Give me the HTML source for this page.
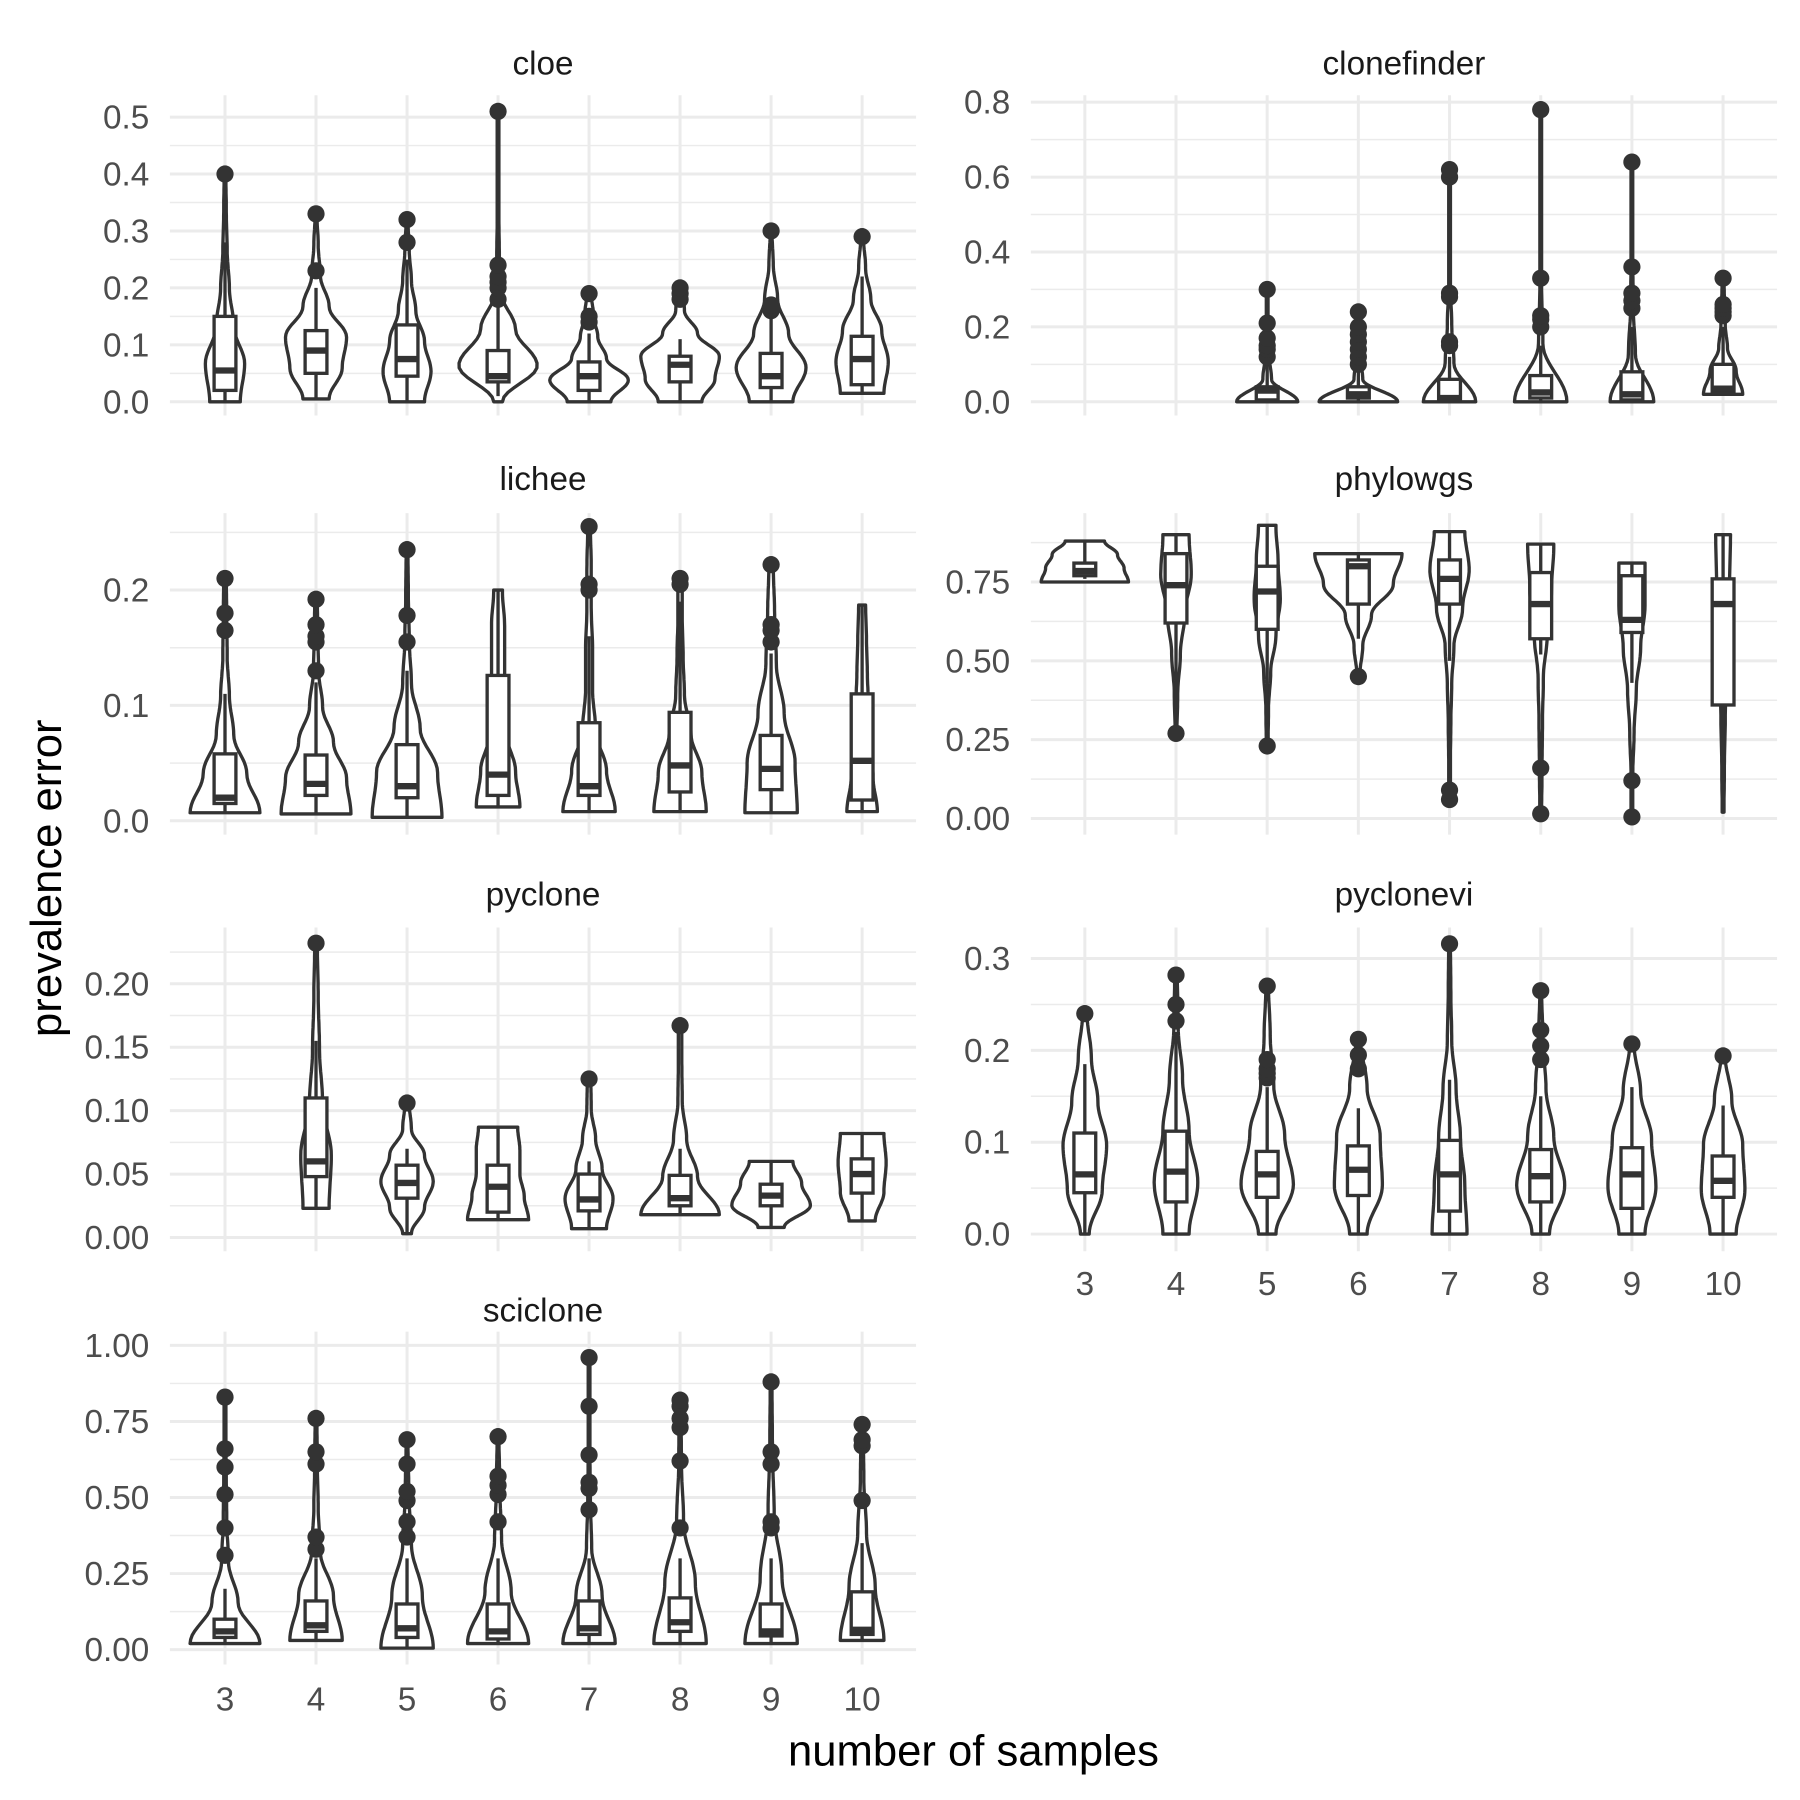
<!DOCTYPE html>
<html><head><meta charset="utf-8"><style>
html,body{margin:0;padding:0;background:#fff}
svg{display:block}
text{font-family:"Liberation Sans",sans-serif}
</style></head><body>
<svg id="chart" width="1800" height="1800" viewBox="0 0 1568 1568" xmlns="http://www.w3.org/2000/svg">
<rect width="1568" height="1568" fill="#fff"/>
<text x="0" y="0" transform="translate(53,765) rotate(-90)" text-anchor="middle" font-size="38" fill="#000">prevalence error</text>
<text x="848" y="1538" text-anchor="middle" font-size="38" fill="#000">number of samples</text>
</svg>
<script>
const categories = [3,4,5,6,7,8,9,10];
const panelNames = ["cloe","clonefinder","lichee","phylowgs","pyclone","pyclonevi","sciclone"];
const tickValues = [[0,0.1,0.2,0.3,0.4,0.5],[0,0.2,0.4,0.6,0.8],[0,0.1,0.2],[0,0.25,0.5,0.75],[0,0.05,0.1,0.15,0.2],[0,0.1,0.2,0.3],[0,0.25,0.5,0.75,1]];
const tickLabels = [["0.0","0.1","0.2","0.3","0.4","0.5"],["0.0","0.2","0.4","0.6","0.8"],["0.0","0.1","0.2"],["0.00","0.25","0.50","0.75"],["0.00","0.05","0.10","0.15","0.20"],["0.0","0.1","0.2","0.3"],["0.00","0.25","0.50","0.75","1.00"]];
const minorValues = [[0.05,0.15,0.25,0.35,0.45],[0.1,0.3,0.5,0.7],[0.05,0.15,0.25],[0.125,0.375,0.625,0.875],[0.025,0.075,0.125,0.175,0.225],[0.05,0.15,0.25],[0.125,0.375,0.625,0.875]];

const cloeCats=[3,4,5,6,7,8,9,10];
const cloeVmin=[0,0.005,0,0,0,0,0,0.015];
const cloeVmax=[0.4,0.33,0.32,0.51,0.19,0.2,0.3,0.29];
const cloeWidths=[[0.35,0.45,0.2,0.1,0.05,0.03,0.02],[0.3,0.6,0.7,0.3,0.1,0.05,0.02],[0.4,0.55,0.4,0.2,0.1,0.05,0.02],[0.1,0.9,0.4,0.08,0.03,0.02,0.02,0.02,0.02],[0.5,0.9,0.4,0.2,0.1,0.05],[0.5,0.8,0.9,0.4,0.1,0.05],[0.5,0.8,0.4,0.15,0.05,0.02],[0.5,0.6,0.45,0.2,0.08,0.03]];
const cloeBox=[[0,0.02,0.055,0.15,0.28],[0.005,0.05,0.09,0.125,0.2],[0,0.045,0.075,0.135,0.25],[0.01,0.035,0.045,0.09,0.17],[0,0.02,0.045,0.07,0.12],[0,0.035,0.065,0.08,0.11],[0,0.025,0.045,0.085,0.15],[0.015,0.03,0.075,0.115,0.22]];
const cloeOut=[[0.4],[0.23,0.33],[0.28,0.32],[0.18,0.2,0.21,0.22,0.24,0.51],[0.14,0.15,0.19],[0.18,0.19,0.2],[0.16,0.17,0.3],[0.29]];

const cfCats=[5,6,7,8,9,10];
const cfVmin=[0,0,0,0,0,0.02];
const cfVmax=[0.3,0.24,0.62,0.78,0.64,0.33];
const cfWidths=[[0.7,0.1,0.05,0.02,0.02,0.02],[0.9,0.1,0.05,0.02,0.02],[0.6,0.1,0.05,0.02,0.02,0.02,0.02],[0.6,0.05,0.02,0.02,0.02,0.02],[0.5,0.08,0.03,0.02,0.02,0.02],[0.45,0.3,0.1,0.05,0.03,0.02]];
const cfBox=[[0,0.005,0.03,0.04,0.1],[0,0.01,0.02,0.04,0.08],[0,0.005,0.01,0.06,0.12],[0,0.01,0.025,0.07,0.15],[0,0.005,0.02,0.08,0.2],[0.02,0.025,0.035,0.1,0.2]];
const cfOut=[[0.12,0.14,0.15,0.17,0.21,0.3],[0.1,0.12,0.14,0.16,0.18,0.2,0.24],[0.15,0.16,0.28,0.29,0.6,0.62],[0.2,0.22,0.23,0.33,0.78],[0.25,0.27,0.29,0.36,0.64],[0.23,0.24,0.25,0.26,0.33]];

const liCats=[3,4,5,6,7,8,9,10];
const liVmin=[0.007,0.006,0.003,0.012,0.008,0.008,0.007,0.008];
const liVmax=[0.21,0.192,0.235,0.2,0.255,0.21,0.222,0.187];
const liWidths=[[0.8,0.5,0.2,0.1,0.05,0.04,0.03],[0.8,0.7,0.4,0.15,0.06,0.04,0.03],[0.8,0.7,0.3,0.1,0.05,0.03,0.02],[0.5,0.4,0.2,0.15,0.15,0.15,0.1],[0.6,0.4,0.15,0.08,0.08,0.05,0.05,0.03],[0.6,0.5,0.25,0.1,0.07,0.05,0.05],[0.6,0.55,0.3,0.12,0.08,0.05],[0.35,0.25,0.2,0.15,0.12,0.1,0.08]];
const liBox=[[0.007,0.015,0.02,0.058,0.11],[0.006,0.022,0.032,0.057,0.12],[0.003,0.02,0.03,0.066,0.13],[0.012,0.022,0.04,0.126,0.2],[0.008,0.022,0.03,0.085,0.16],[0.008,0.025,0.048,0.094,0.19],[0.007,0.027,0.045,0.074,0.145],[0.008,0.018,0.052,0.11,0.187]];
const liOut=[[0.165,0.18,0.21],[0.13,0.155,0.16,0.17,0.192],[0.155,0.178,0.235],[],[0.2,0.205,0.255],[0.205,0.21],[0.155,0.165,0.17,0.222],[]];

const phCats=[3,4,5,6,7,8,9,10];
const phVmin=[0.75,0.27,0.23,0.45,0.06,0.015,0.005,0.02];
const phVmax=[0.88,0.9,0.93,0.84,0.91,0.87,0.81,0.9];
const phWidths=[[1,0.9,0.75,0.45],[0.02,0.04,0.1,0.2,0.35,0.3],[0.02,0.03,0.08,0.2,0.3,0.25,0.2],[0.03,0.1,0.3,0.8,1.0],[0.02,0.02,0.03,0.05,0.1,0.3,0.45,0.35],[0.02,0.03,0.04,0.06,0.15,0.25,0.3],[0.02,0.02,0.05,0.1,0.2,0.3,0.3],[0.02,0.03,0.05,0.08,0.12,0.15,0.17]];
const phBox=[[0.76,0.77,0.785,0.81,0.88],[0.35,0.62,0.74,0.84,0.9],[0.3,0.6,0.72,0.8,0.93],[0.57,0.68,0.8,0.82,0.84],[0.5,0.68,0.76,0.82,0.91],[0.52,0.57,0.68,0.78,0.87],[0.43,0.59,0.63,0.77,0.81],[0.1,0.36,0.68,0.76,0.9]];
const phOut=[[],[0.27],[0.23],[0.45],[0.06,0.09],[0.015,0.16],[0.005,0.12],[]];

const pyCats=[4,5,6,7,8,9,10];
const pyVmin=[0.023,0.003,0.014,0.007,0.018,0.008,0.013];
const pyVmax=[0.232,0.106,0.087,0.125,0.167,0.06,0.082];
const pyWidths=[[0.3,0.35,0.15,0.08,0.05,0.03],[0.1,0.4,0.6,0.4,0.1,0.05],[0.7,0.6,0.5,0.5,0.45],[0.4,0.55,0.3,0.15,0.05,0.04],[0.9,0.4,0.15,0.05,0.04,0.04],[0.3,0.9,0.7,0.5],[0.3,0.5,0.55,0.5]];
const pyBox=[[0.023,0.048,0.06,0.11,0.155],[0.003,0.031,0.043,0.057,0.07],[0.014,0.02,0.04,0.057,0.087],[0.007,0.021,0.03,0.05,0.06],[0.018,0.025,0.031,0.049,0.07],[0.008,0.025,0.033,0.042,0.06],[0.013,0.035,0.05,0.062,0.082]];
const pyOut=[[0.232],[0.106],[],[0.125],[0.167],[],[]];

const pvCats=[3,4,5,6,7,8,9,10];
const pvVmin=[0,0,0,0,0,0,0,0];
const pvVmax=[0.24,0.282,0.27,0.212,0.316,0.265,0.207,0.194];
const pvWidths=[[0.1,0.4,0.5,0.3,0.15,0.05],[0.3,0.5,0.3,0.15,0.05,0.03],[0.2,0.6,0.4,0.15,0.07,0.03],[0.2,0.55,0.5,0.2,0.05],[0.4,0.35,0.25,0.15,0.05,0.03,0.02],[0.2,0.55,0.3,0.12,0.05,0.02],[0.3,0.55,0.45,0.2,0.05],[0.3,0.5,0.45,0.2,0.05]];
const pvBox=[[0,0.045,0.065,0.11,0.185],[0,0.035,0.068,0.112,0.22],[0,0.04,0.065,0.09,0.16],[0,0.042,0.07,0.096,0.137],[0,0.025,0.065,0.102,0.168],[0,0.035,0.063,0.092,0.15],[0,0.028,0.065,0.094,0.16],[0,0.04,0.058,0.085,0.14]];
const pvOut=[[0.24],[0.232,0.25,0.282],[0.17,0.175,0.18,0.19,0.27],[0.18,0.195,0.212],[0.316],[0.19,0.205,0.222,0.265],[0.207],[0.194]];

const scCats=[3,4,5,6,7,8,9,10];
const scVmin=[0.02,0.03,0.005,0.02,0.02,0.02,0.02,0.03];
const scVmax=[0.83,0.76,0.69,0.705,0.96,0.82,0.88,0.74];
const scWidths=[[0.8,0.3,0.08,0.04,0.03,0.02,0.02],[0.6,0.4,0.1,0.05,0.03,0.02],[0.6,0.35,0.1,0.04,0.02],[0.7,0.3,0.08,0.04,0.02],[0.6,0.3,0.06,0.03,0.02,0.02,0.02],[0.6,0.35,0.08,0.03,0.02],[0.6,0.25,0.07,0.03,0.02],[0.5,0.3,0.1,0.04,0.02]];
const scBox=[[0.02,0.04,0.06,0.1,0.2],[0.03,0.06,0.08,0.16,0.3],[0.005,0.04,0.07,0.15,0.3],[0.02,0.035,0.06,0.15,0.3],[0.02,0.05,0.07,0.16,0.3],[0.02,0.06,0.09,0.17,0.3],[0.02,0.045,0.06,0.15,0.3],[0.03,0.05,0.065,0.19,0.35]];
const scOut=[[0.31,0.4,0.51,0.6,0.66,0.83],[0.33,0.37,0.61,0.65,0.76],[0.37,0.42,0.49,0.52,0.61,0.69],[0.42,0.51,0.54,0.57,0.7],[0.46,0.53,0.55,0.64,0.8,0.96],[0.4,0.62,0.73,0.76,0.8,0.82],[0.4,0.42,0.61,0.65,0.88],[0.49,0.67,0.69,0.74]];

const groupCats=[cloeCats,cfCats,liCats,phCats,pyCats,pvCats,scCats];
const groupVmin=[cloeVmin,cfVmin,liVmin,phVmin,pyVmin,pvVmin,scVmin];
const groupVmax=[cloeVmax,cfVmax,liVmax,phVmax,pyVmax,pvVmax,scVmax];
const groupWidths=[cloeWidths,cfWidths,liWidths,phWidths,pyWidths,pvWidths,scWidths];
const groupBox=[cloeBox,cfBox,liBox,phBox,pyBox,pvBox,scBox];
const groupOut=[cloeOut,cfOut,liOut,phOut,pyOut,pvOut,scOut];

const layout=[
 {x0:148,x1:798,top:83,bottom:362,y0:350,yRef:102,ref:0.5,title:55,c3:196,c10:751,xlab:false},
 {x0:898,x1:1548,top:83,bottom:362,y0:350,yRef:89,ref:0.8,title:55,c3:945,c10:1501,xlab:false},
 {x0:148,x1:798,top:447,bottom:727,y0:715,yRef:514,ref:0.2,title:417,c3:196,c10:751,xlab:false},
 {x0:898,x1:1548,top:447,bottom:727,y0:713,yRef:507,ref:0.75,title:417,c3:945,c10:1501,xlab:false},
 {x0:148,x1:798,top:808,bottom:1090,y0:1078,yRef:857,ref:0.2,title:779,c3:196,c10:751,xlab:false},
 {x0:898,x1:1548,top:808,bottom:1090,y0:1075,yRef:835,ref:0.3,title:779,c3:945,c10:1501,xlab:true,xlabY:1128},
 {x0:148,x1:798,top:1160,bottom:1450,y0:1437,yRef:1172,ref:1.0,title:1141,c3:196,c10:751,xlab:true,xlabY:1490}
];
const NS="http://www.w3.org/2000/svg";
const svg=document.getElementById('chart');
function mk(tag,attrs,parent){const e=document.createElementNS(NS,tag);for(const k in attrs)e.setAttribute(k,attrs[k]);(parent||svg).appendChild(e);return e;}
const HALF=38, BOXW=9.5, INK="#333333", TICKFS=29, SW=2.9;

panelNames.forEach((name,p)=>{
  const L=layout[p];
  const g=mk('g',{});
  
  
  const y=v=>L.y0+(L.yRef-L.y0)*v/L.ref;
  const x=c=>L.c3+(L.c10-L.c3)*(c-3)/7;
  minorValues[p].forEach(v=>{const yy=y(v); if(yy<L.top||yy>L.bottom)return;
    const l=mk('line',{x1:L.x0,x2:L.x1,y1:yy,y2:yy,stroke:'#ebebeb','stroke-width':1.3},g);
    
    });
  tickValues[p].forEach((v,i)=>{const yy=y(v);
    const l=mk('line',{x1:L.x0,x2:L.x1,y1:yy,y2:yy,stroke:'#ebebeb','stroke-width':2.6},g);
    
    
    const t=mk('text',{x:L.x0-18,y:yy+10,'text-anchor':'end','font-size':TICKFS,fill:'#4d4d4d'},g);
    t.textContent=tickLabels[p][i];
    
    });
  categories.forEach(c=>{
    const l=mk('line',{x1:x(c),x2:x(c),y1:L.top,y2:L.bottom,stroke:'#ebebeb','stroke-width':2.6},g);
    
    
    if(L.xlab){const t=mk('text',{x:x(c),y:L.xlabY,'text-anchor':'middle','font-size':TICKFS,fill:'#4d4d4d'},g);
      t.textContent=String(c);
      
      }
  });
  const st=mk('text',{x:(L.x0+L.x1)/2,y:L.title+10,'text-anchor':'middle','font-size':29,fill:'#1a1a1a'},g);
  st.textContent=name;
  
  
  groupCats[p].forEach((c,k)=>{
    const cx=x(c), vmin=groupVmin[p][k], vmax=groupVmax[p][k], w=groupWidths[p][k];
    const gg=mk('g',{},g);
    
    
    const N=60, pts=[];
    for(let i=0;i<=N;i++){const f=i/N; const pos=f*(w.length-1); const a=Math.floor(pos), b=Math.min(a+1,w.length-1); const t=pos-a; const s=(1-Math.cos(Math.PI*t))/2;
      const ww=w[a]*(1-s)+w[b]*s; pts.push([y(vmin+(vmax-vmin)*f), Math.max(ww,0.02)*HALF]);}
    let d='M'+pts.map(q=>(cx+q[1]).toFixed(1)+','+q[0].toFixed(1)).join('L');
    d+='L'+pts.slice().reverse().map(q=>(cx-q[1]).toFixed(1)+','+q[0].toFixed(1)).join('L')+'Z';
    const vp=mk('path',{d:d,fill:'#fff',stroke:INK,'stroke-width':SW,'stroke-linejoin':'round'},gg);
    
    
    const bx=groupBox[p][k];
    const wl=mk('line',{x1:cx,x2:cx,y1:y(bx[0]),y2:y(bx[4]),stroke:INK,'stroke-width':SW},gg);
    
    
    const r=mk('rect',{x:cx-BOXW,y:y(bx[3]),width:2*BOXW,height:Math.max(y(bx[1])-y(bx[3]),1),fill:'#fff',stroke:INK,'stroke-width':SW},gg);
    
    
    const m=mk('line',{x1:cx-BOXW,x2:cx+BOXW,y1:y(bx[2]),y2:y(bx[2]),stroke:INK,'stroke-width':5.5},gg);
    
    
    groupOut[p][k].forEach(v=>{const o=mk('circle',{cx:cx,cy:y(v),r:7.5,fill:INK},gg);
      
      });
  });
});
</script>
</body></html>
